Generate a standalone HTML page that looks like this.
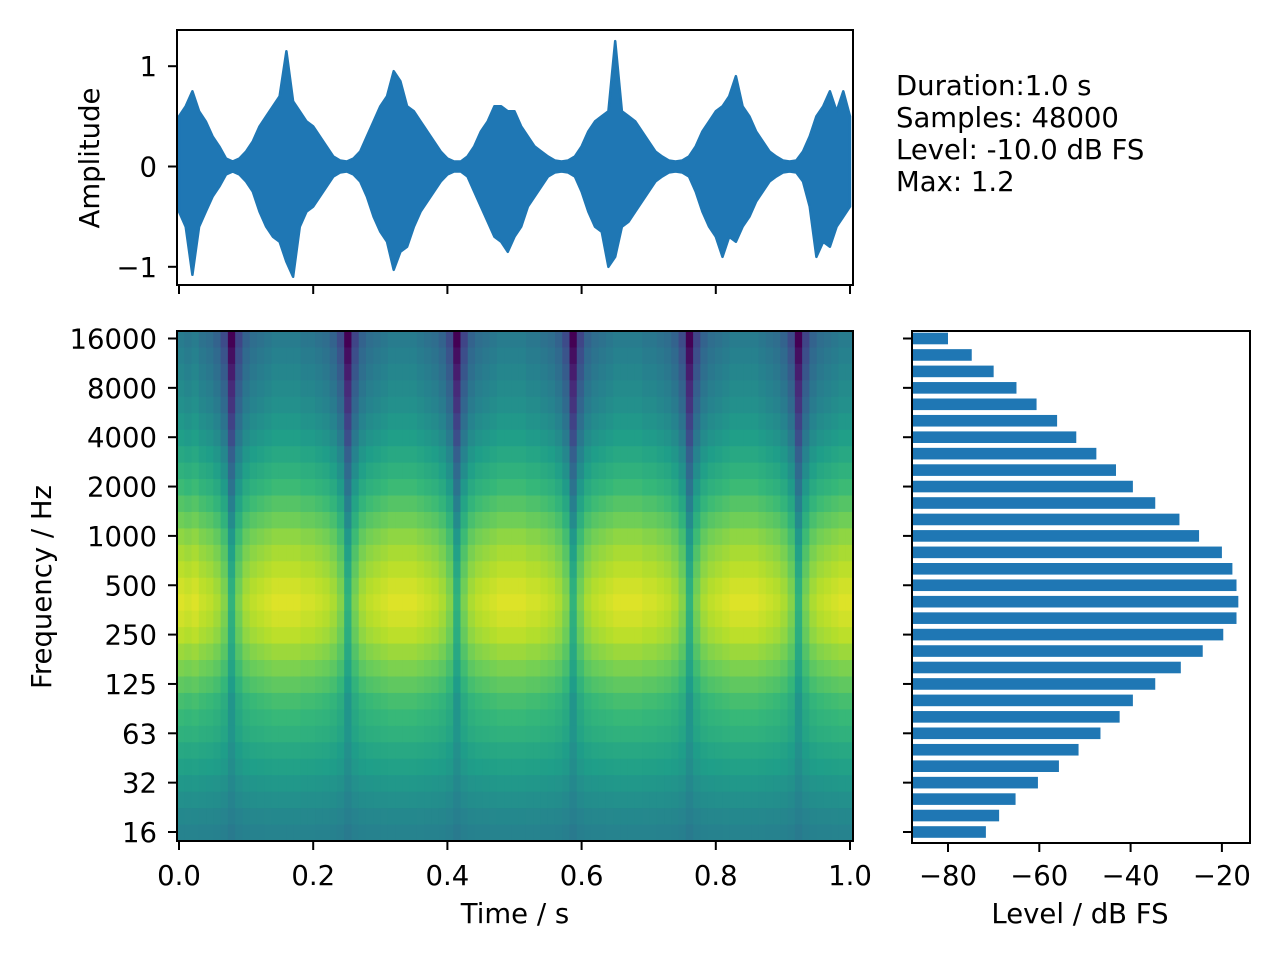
<!DOCTYPE html>
<html><head><meta charset="utf-8"><style>
html,body{margin:0;padding:0;background:#fff;}
svg{display:block;font-family:"DejaVu Sans","Liberation Sans",sans-serif;}
</style></head><body>
<svg id="fig" width="1280" height="960" viewBox="0 0 1280 960" xmlns="http://www.w3.org/2000/svg">
<rect width="1280" height="960" fill="#fff"/>
<g id="wave"></g>
<g id="spec"></g>
<g id="bars"></g>
<g font-size="27.5" fill="#000">
<text x="896" y="95">Duration:1.0 s</text>
<text x="896" y="127">Samples: 48000</text>
<text x="896" y="159">Level: -10.0 dB FS</text>
<text x="896" y="191">Max: 1.2</text>
</g>
<text x="0" y="0" transform="translate(99,158) rotate(-90)" text-anchor="middle" font-size="27.5">Amplitude</text>
<text x="0" y="0" transform="translate(51,587) rotate(-90)" text-anchor="middle" font-size="27.5">Frequency / Hz</text>
<text x="515" y="923" text-anchor="middle" font-size="27.5">Time / s</text>
<text x="1080" y="923" text-anchor="middle" font-size="27.5">Level / dB FS</text>
</svg>
<script>
// ---- waveform data (envelope per 0.01 s) ----
const waveUpper = [.5,.6,.75,.55,.45,.3,.2,.08,.05,.08,
.15,.25,.4,.5,.6,.7,1.15,.65,.55,.45,
.4,.3,.2,.1,.06,.05,.08,.15,.3,.45,
.6,.7,.95,.85,.6,.55,.45,.35,.25,.15,
.08,.05,.05,.1,.2,.35,.45,.6,.6,.55,
.55,.4,.3,.2,.15,.1,.06,.05,.06,.1,
.2,.35,.45,.5,.55,1.25,.55,.5,.45,.35,
.25,.15,.1,.06,.05,.06,.1,.2,.35,.45,
.55,.6,.7,.9,.6,.5,.35,.25,.15,.1,
.06,.05,.06,.15,.3,.5,.6,.75,.55,.75,.5];
const waveLower = [-.45,-.6,-1.08,-.6,-.45,-.3,-.2,-.08,-.05,-.08,
-.15,-.25,-.45,-.6,-.7,-.75,-.95,-1.1,-.6,-.45,
-.4,-.3,-.2,-.1,-.06,-.05,-.08,-.15,-.3,-.5,
-.65,-.75,-1.03,-.85,-.8,-.6,-.45,-.35,-.25,-.15,
-.08,-.05,-.05,-.1,-.25,-.4,-.55,-.7,-.75,-.85,
-.7,-.6,-.4,-.3,-.2,-.1,-.06,-.05,-.06,-.1,
-.25,-.45,-.6,-.65,-1.0,-.9,-.6,-.55,-.45,-.35,
-.25,-.15,-.1,-.06,-.05,-.06,-.1,-.25,-.45,-.6,
-.7,-.9,-.7,-.75,-.6,-.5,-.35,-.25,-.15,-.1,
-.06,-.05,-.06,-.15,-.4,-.9,-.75,-.8,-.6,-.5,-.4];
const waveYTicks = [1,0,-1];
const waveYLabels = ["1","0","\u22121"];
const timeTicks = [0,0.2,0.4,0.6,0.8,1.0];
const timeLabels = ["0.0","0.2","0.4","0.6","0.8","1.0"];
// ---- spectrogram data ----
const freqLabels = ["16000","8000","4000","2000","1000","500","250","125","63","32","16"];
const bandBase = [0.42,0.44,0.46,0.48,0.5,0.53,0.56,0.6,0.64,0.68,0.73,0.78,0.83,0.87,0.9,0.93,0.95,0.93,0.9,0.85,0.8,0.75,0.7,0.67,0.64,0.6,0.57,0.53,0.5,0.47,0.45];
const bandDepth = [0.42,0.4,0.38,0.36,0.35,0.33,0.32,0.3,0.3,0.3,0.3,0.3,0.3,0.3,0.3,0.3,0.3,0.3,0.28,0.25,0.22,0.2,0.18,0.15,0.12,0.1,0.08,0.06,0.05,0.04,0.04];
const frameEnv = [1,.95,1,.9,.85,.75,.55,0,.5,.75,
.85,.9,.95,1,1,1,1,.95,.95,.9,.85,.75,.55,0,.5,.75,.85,.9,.95,1,
1,1,1,.95,.9,.85,.75,.55,0,.5,
.75,.85,.9,.95,1,1,1,1,.95,.95,.9,.85,.75,.55,0,.5,.75,.85,.9,.95,
1,1,1,1,.95,.95,.9,.85,.75,.55,
0,.5,.75,.85,.9,.95,1,1,1,1,
.95,.9,.85,.75,.55,0,.5,.75,.85,.9,
.95,1,1];
// ---- band levels (dB FS), top = 16 kHz ----
const bandLevels = [-80,-74.8,-70,-65,-60.6,-56.1,-51.9,-47.5,-43.2,-39.5,-34.6,-29.3,-25,-20,-17.7,-16.8,-16.4,-16.8,-19.7,-24.2,-29,-34.6,-39.5,-42.4,-46.6,-51.4,-55.7,-60.3,-65.2,-68.8,-71.7];
const levelTicks = [-80,-60,-40,-20];
const levelLabels = ["\u221280","\u221260","\u221240","\u221220"];

const NS="http://www.w3.org/2000/svg";
function mk(tag, attrs, parent){const e=document.createElementNS(NS,tag);for(const k in attrs)e.setAttribute(k,attrs[k]);parent.appendChild(e);return e;}
const viridis=["#440154","#482878","#3e4989","#31688e","#26828e","#1f9e89","#35b779","#6ece58","#b5de2b","#fde725"];
function hex(h){return [parseInt(h.substr(1,2),16),parseInt(h.substr(3,2),16),parseInt(h.substr(5,2),16)];}
function cmap(t){t=Math.max(0,Math.min(1,t));const p=t*9,i=Math.min(8,Math.floor(p)),f=p-i;const a=hex(viridis[i]),b=hex(viridis[i+1]);return "rgb("+a.map((v,k)=>Math.round(v+(b[k]-v)*f)).join(",")+")";}

// waveform
const W=document.getElementById('wave');
const wx=t=>179+t*671, wy=v=>166.5-v*100.3;
let d="";
for(let i=0;i<waveUpper.length;i++){d+=(i?"L":"M")+wx(i/(waveUpper.length-1)).toFixed(1)+","+wy(waveUpper[i]).toFixed(1);}
for(let i=waveLower.length-1;i>=0;i--){d+="L"+wx(i/(waveLower.length-1)).toFixed(1)+","+wy(waveLower[i]).toFixed(1);}
d+="Z";
const wp=mk('path',{d:d,fill:"#1f77b4",stroke:"#1f77b4","stroke-width":"2.5","stroke-linejoin":"round"},W);


const wf=mk('rect',{x:177,y:30,width:676,height:255,fill:"none",stroke:"#000","stroke-width":"2"},W);


waveYTicks.forEach((v,i)=>{
  mk('line',{x1:168,x2:177,y1:wy(v),y2:wy(v),stroke:"#000","stroke-width":"2"},W);
  const t=mk('text',{x:157,y:wy(v)+10,"text-anchor":"end","font-size":"27.5"},W);t.textContent=waveYLabels[i];
  
  
});
timeTicks.forEach(v=>{mk('line',{x1:wx(v),x2:wx(v),y1:285,y2:294,stroke:"#000","stroke-width":"2"},W);});

// spectrogram
const S=document.getElementById('spec');
const nC=frameEnv.length,nR=bandBase.length;
const cw=676/nC, rh=510/nR;
for(let r=0;r<nR;r++){for(let c=0;c<nC;c++){
  const t=bandBase[r]-(1-frameEnv[c])*bandDepth[r];
  const cell=mk('rect',{x:(177+c*cw).toFixed(2),y:(331+r*rh).toFixed(2),width:(cw+0.6).toFixed(2),height:(rh+0.6).toFixed(2),fill:cmap(t)},S);
  
  
}}
const sf=mk('rect',{x:177,y:331,width:676,height:510,fill:"none",stroke:"#000","stroke-width":"2"},S);


const fy=i=>338.5+i*49.35;
freqLabels.forEach((l,i)=>{
  mk('line',{x1:168,x2:177,y1:fy(i),y2:fy(i),stroke:"#000","stroke-width":"2"},S);
  const t=mk('text',{x:157,y:fy(i)+10,"text-anchor":"end","font-size":"27.5"},S);t.textContent=l;
  
  
});
timeTicks.forEach((v,i)=>{
  mk('line',{x1:wx(v),x2:wx(v),y1:841,y2:850,stroke:"#000","stroke-width":"2"},S);
  const t=mk('text',{x:wx(v),y:885,"text-anchor":"middle","font-size":"27.5"},S);t.textContent=timeLabels[i];
  
  
});

// bar chart
const B=document.getElementById('bars');
const bx=v=>948+(v+80)*4.565;
const by=i=>338.5+i*16.45;
bandLevels.forEach((v,i)=>{
  const r=mk('rect',{x:912,y:by(i)-5.8,width:Math.max(0,bx(v)-912),height:11.6,fill:"#1f77b4"},B);
  
  
});
const bf=mk('rect',{x:912,y:331,width:338,height:512,fill:"none",stroke:"#000","stroke-width":"2"},B);


freqLabels.forEach((l,i)=>{mk('line',{x1:903,x2:912,y1:fy(i),y2:fy(i),stroke:"#000","stroke-width":"2"},B);});
levelTicks.forEach((v,i)=>{
  mk('line',{x1:bx(v),x2:bx(v),y1:843,y2:852,stroke:"#000","stroke-width":"2"},B);
  const t=mk('text',{x:bx(v),y:885,"text-anchor":"middle","font-size":"27.5"},B);t.textContent=levelLabels[i];
  
  
});
</script>
</body></html>
